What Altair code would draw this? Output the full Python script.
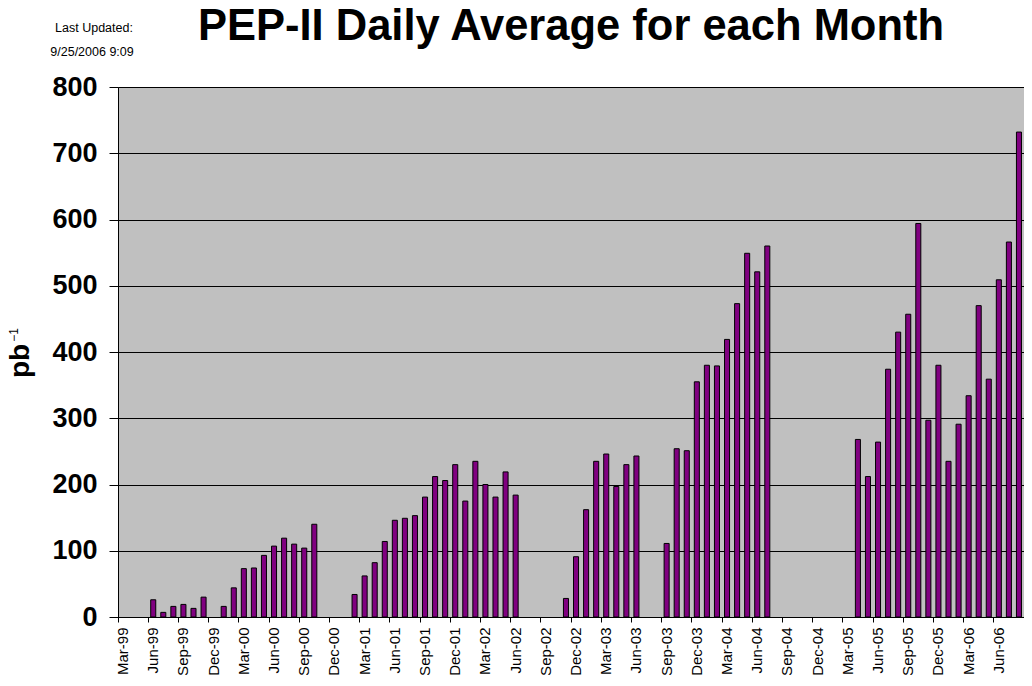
import altair as alt
import pandas as pd

months = [
    "Mar-99", "Apr-99", "May-99", "Jun-99", "Jul-99", "Aug-99", "Sep-99", "Oct-99", "Nov-99", "Dec-99",
    "Jan-00", "Feb-00", "Mar-00", "Apr-00", "May-00", "Jun-00", "Jul-00", "Aug-00", "Sep-00", "Oct-00", "Nov-00", "Dec-00",
    "Jan-01", "Feb-01", "Mar-01", "Apr-01", "May-01", "Jun-01", "Jul-01", "Aug-01", "Sep-01", "Oct-01", "Nov-01", "Dec-01",
    "Jan-02", "Feb-02", "Mar-02", "Apr-02", "May-02", "Jun-02", "Jul-02", "Aug-02", "Sep-02", "Oct-02", "Nov-02", "Dec-02",
    "Jan-03", "Feb-03", "Mar-03", "Apr-03", "May-03", "Jun-03", "Jul-03", "Aug-03", "Sep-03", "Oct-03", "Nov-03", "Dec-03",
    "Jan-04", "Feb-04", "Mar-04", "Apr-04", "May-04", "Jun-04", "Jul-04", "Aug-04", "Sep-04", "Oct-04", "Nov-04", "Dec-04",
    "Jan-05", "Feb-05", "Mar-05", "Apr-05", "May-05", "Jun-05", "Jul-05", "Aug-05", "Sep-05", "Oct-05", "Nov-05", "Dec-05",
    "Jan-06", "Feb-06", "Mar-06", "Apr-06", "May-06", "Jun-06", "Jul-06", "Aug-06",
]

vals_1999 = [None, None, None, 26, 7, 16, 19, 13, 30, None]
vals_2000 = [16, 44, 73, 74, 93, 107, 119, 110, 104, 140, None, None]
vals_2001 = [None, 34, 62, 82, 114, 146, 149, 153, 181, 212, 206, 230]
vals_2002 = [175, 235, 200, 181, 219, 184, None, None, None, None, 28, 91]
vals_2003 = [162, 235, 246, 197, 230, 243, None, None, 111, 254, 251, 355]
vals_2004 = [380, 379, 419, 473, 549, 521, 560, None, None, None, None, None]
vals_2005 = [None, None, None, 268, 212, 264, 374, 430, 457, 594, 297, 380]
vals_2006 = [235, 291, 334, 470, 359, 509, 566, 732]

values = vals_1999 + vals_2000 + vals_2001 + vals_2002 + vals_2003 + vals_2004 + vals_2005 + vals_2006

label_months = months[::3]
tick_months = months[::3]
end_month = [months[-1]]
y_ticks = [0, 100, 200, 300, 400, 500, 600, 700, 800]

title_text = "PEP-II Daily Average for each Month"
updated_1 = "Last Updated:"
updated_2 = "9/25/2006 9:09"

FONT = "Liberation Sans"

df = pd.DataFrame({"month": months, "pb": values})
x_scale = alt.Scale(domain=months, paddingInner=0, paddingOuter=0)

bars = alt.Chart(df).mark_bar(
    color="#800080", stroke="black", strokeWidth=1, width=alt.RelativeBandSize(0.5)
).encode(
    x=alt.X("month:N", scale=x_scale, axis=alt.Axis(
        title=None, orient="bottom", values=label_months, labelAngle=270,
        labelFontSize=15, labelFont=FONT, labelColor="black", labelPadding=5,
        ticks=True, tickSize=5, tickOpacity=0, domain=True, domainColor="black",
        domainWidth=1, grid=False, labelOverlap=False)),
    y=alt.Y("pb:Q", scale=alt.Scale(domain=[0, 800], nice=False, zero=True), axis=alt.Axis(
        title=None, values=y_ticks, labelFontSize=27, labelFont=FONT, labelFontWeight="bold",
        labelColor="black", labelPadding=12, tickSize=9, tickColor="black", domainColor="black",
        domainWidth=1, grid=True, gridColor="black", gridWidth=1)),
)

ticks0 = alt.Chart(df).mark_point(opacity=0).encode(
    x=alt.X("month:N", scale=x_scale, axis=alt.Axis(
        title=None, orient="bottom", values=tick_months, labels=False, bandPosition=0,
        tickSize=5, tickColor="black", tickWidth=1, domain=False, grid=False)),
)
ticks1 = alt.Chart(df).mark_point(opacity=0).encode(
    x=alt.X("month:N", scale=x_scale, axis=alt.Axis(
        title=None, orient="bottom", values=end_month, labels=False, bandPosition=1,
        tickSize=5, tickColor="black", tickWidth=1, domain=False, grid=False)),
)

one = alt.Data(values=[{}])

title = alt.Chart(one).mark_text(
    text=title_text, font=FONT, fontSize=43.5, fontWeight="bold", color="black",
    align="center", baseline="alphabetic"
).encode(x=alt.value(453), y=alt.value(-47))

lu1 = alt.Chart(one).mark_text(
    text=updated_1, font=FONT, fontSize=12.5, color="black", align="center", baseline="alphabetic"
).encode(x=alt.value(-24), y=alt.value(-55))

lu2 = alt.Chart(one).mark_text(
    text=updated_2, font=FONT, fontSize=12.5, color="black", align="center", baseline="alphabetic"
).encode(x=alt.value(-26), y=alt.value(-31))

ylab = alt.Chart(one).mark_text(
    text="pb", font=FONT, fontSize=28, fontWeight="bold", color="black",
    align="center", baseline="alphabetic", angle=270
).encode(x=alt.value(-89), y=alt.value(274))

ysup = alt.Chart(one).mark_text(
    text="\u22121", font=FONT, fontSize=12, color="black",
    align="center", baseline="alphabetic", angle=270
).encode(x=alt.value(-100), y=alt.value(248))

chart = alt.layer(bars, ticks0, ticks1, title, lu1, lu2, ylab, ysup).resolve_axis(
    x="independent"
).properties(
    width=906, height=530,
    autosize=alt.AutoSizeParams(type="none"),
    padding={"left": 110, "top": 79, "right": 0, "bottom": 58},
    background="white",
).configure_view(
    fill="#C0C0C0", stroke="#808080", strokeWidth=1
)

chart.save("out.html", embed_options={"renderer": "svg", "actions": False})
